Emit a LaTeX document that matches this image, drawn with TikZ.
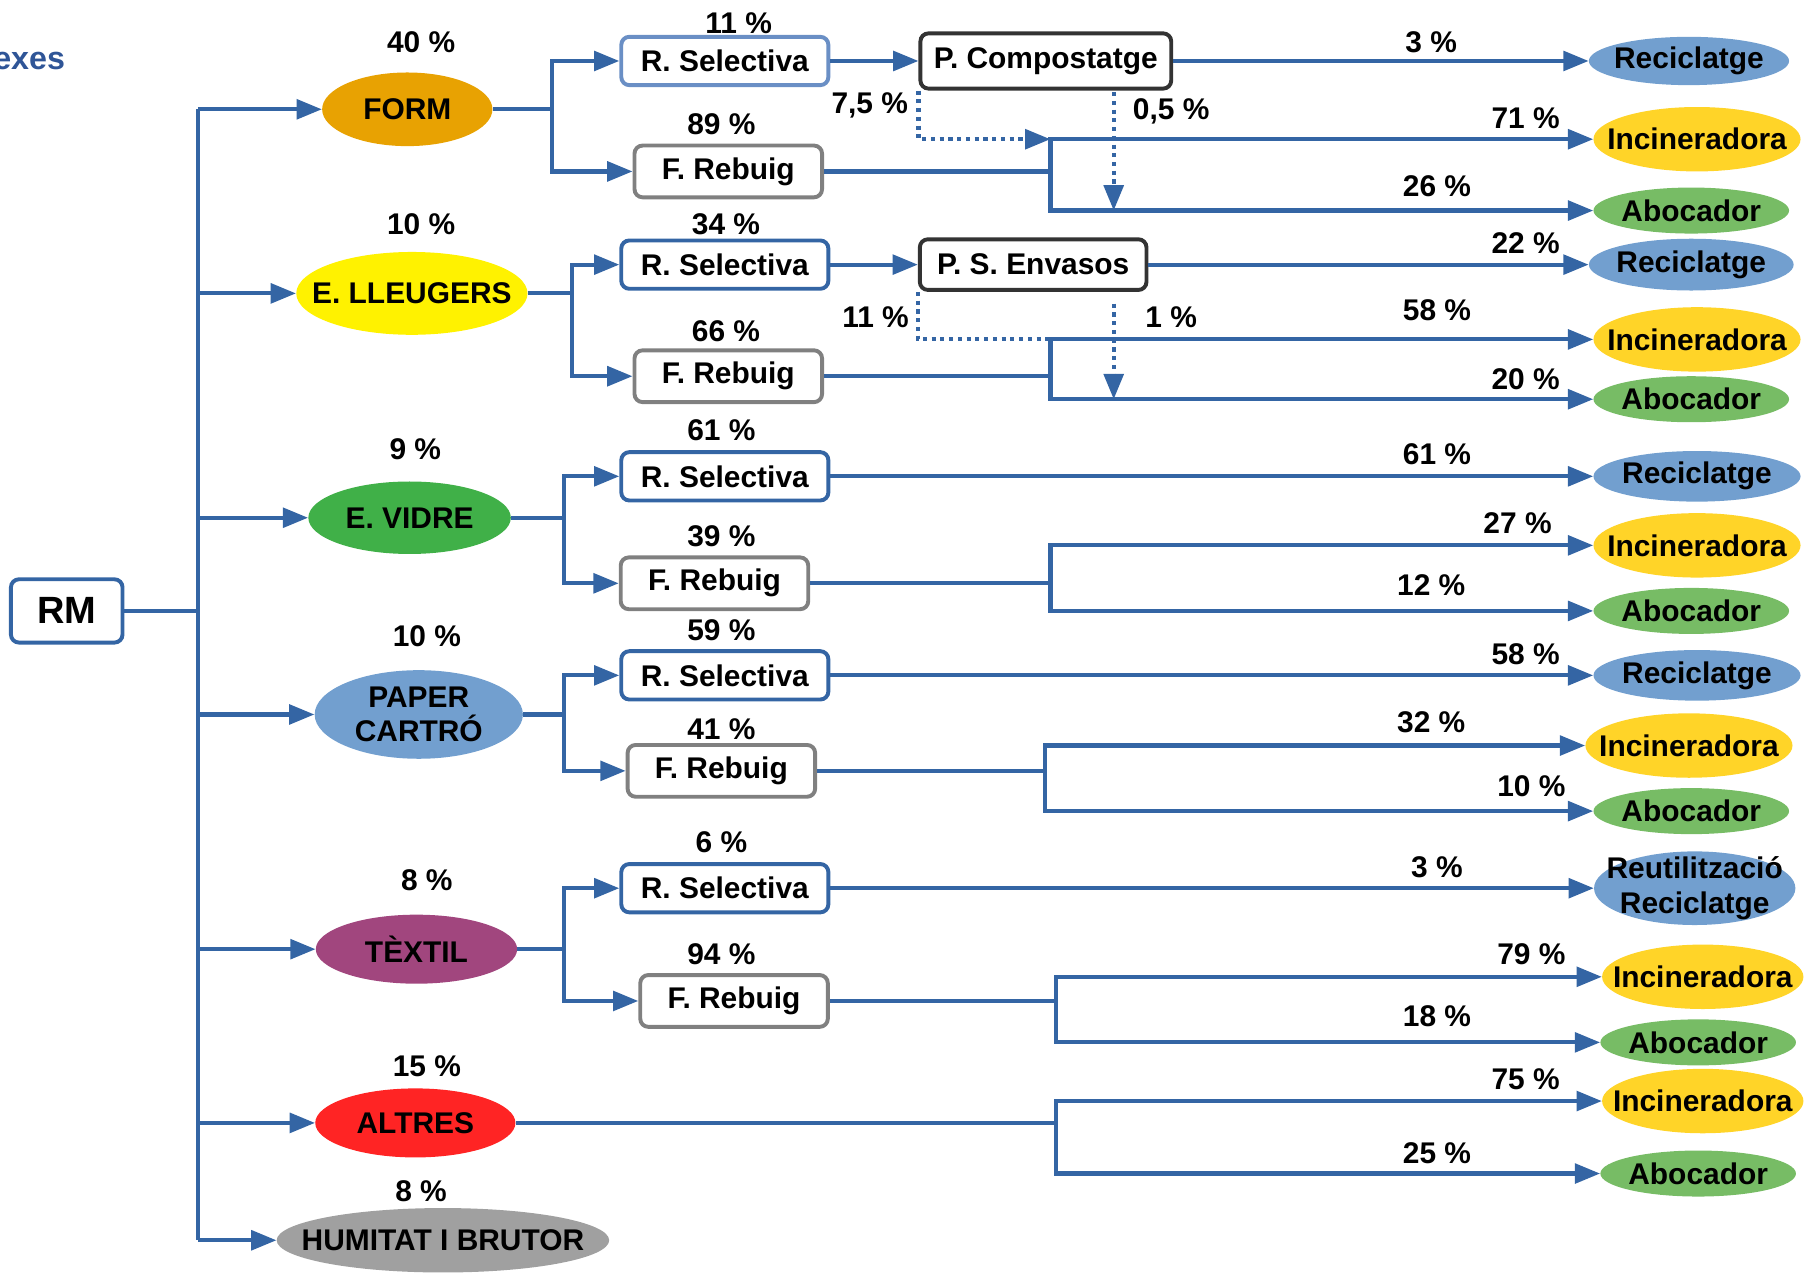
\documentclass[tikz,border=0pt]{standalone}
\usepackage{fontspec}
\setmainfont{Liberation Sans}
\usetikzlibrary{arrows.meta,shapes.geometric}
\definecolor{lnblue}{HTML}{3465A4}
\definecolor{lightblue}{HTML}{729FCF}
\definecolor{rsfirst}{HTML}{6A8FC5}
\definecolor{incyel}{HTML}{FFD428}
\definecolor{abgreen}{HTML}{77BC65}
\definecolor{formor}{HTML}{E8A202}
\definecolor{vidreg}{HTML}{40B048}
\definecolor{textilp}{HTML}{A1467E}
\definecolor{altresr}{HTML}{FF2424}
\definecolor{humgray}{HTML}{A0A0A0}
\definecolor{titleblue}{HTML}{2F5597}
\definecolor{pboxgray}{HTML}{333333}
\definecolor{frgray}{HTML}{808080}
\begin{document}
\begin{tikzpicture}[x=1pt,y=-1pt,
  every node/.style={font=\fontsize{26}{30}\selectfont\bfseries},
  conn/.style={draw=lnblue,line width=3.6pt},
  arr/.style={conn,-{Triangle[length=22pt,width=17pt]}},
  dotl/.style={draw=lnblue,line width=3.6pt,dash pattern=on 3.6pt off 4pt},
  dotarr/.style={dotl,-{Triangle[length=22pt,width=17pt]}},
  ell/.style={ellipse,inner sep=0pt,draw=none},
  bx/.style={rectangle,rounded corners=7pt,line width=3.4pt,fill=white,inner sep=0pt},
  rsel/.style={bx,draw=lnblue,minimum width=180pt,minimum height=42pt},
  frb/.style={bx,draw=frgray,minimum width=163pt,minimum height=45pt},
  pbx/.style={bx,draw=pboxgray},
  rec/.style={ell,fill=lightblue,minimum width=176pt,minimum height=44pt,label={center:Reciclatge}},
  inc/.style={ell,fill=incyel,minimum width=180pt,minimum height=56pt,label={center:Incineradora}},
  abo/.style={ell,fill=abgreen,minimum width=170pt,minimum height=40pt,label={center:Abocador}},
]
\useasboundingbox (0,0) rectangle (1568,1106);

% title fragment
\node[anchor=east,text=titleblue,font=\fontsize{28}{32}\selectfont\bfseries] (title) at (60,53) {exes};

% root
\node[bx,draw=lnblue,minimum width=97pt,minimum height=55pt,font=\fontsize{33}{36}\selectfont\bfseries] (rm) at (58,531) {RM};
\coordinate (trk) at (172,531);

% level 1 ellipses
\node[ell,fill=formor,minimum width=148pt,minimum height=64pt,label={center:FORM}] (form) at (354,95) {};
\node[ell,fill=yellow,minimum width=201pt,minimum height=72pt,label={center:E. LLEUGERS}] (lleu) at (358,255) {};
\node[ell,fill=vidreg,minimum width=176pt,minimum height=63pt,label={center:E. VIDRE}] (vidre) at (356,450) {};
\node[ell,fill=lightblue,minimum width=181pt,minimum height=77pt,label={[align=center]center:PAPER\\CARTRÓ}] (paper) at (364,621) {};
\node[ell,fill=textilp,minimum width=175pt,minimum height=60pt,label={center:TÈXTIL}] (textil) at (362,825) {};
\node[ell,fill=altresr,minimum width=174pt,minimum height=60pt,label={center:ALTRES}] (altres) at (361,976) {};
\node[ell,fill=humgray,minimum width=289pt,minimum height=56pt,label={center:HUMITAT I BRUTOR}] (hum) at (385,1078) {};

\node (p1) at (366,37) {40 \%};
\node (p2) at (366,195) {10 \%};
\node (p3) at (361,390) {9 \%};
\node (p4) at (371,553) {10 \%};
\node (p5) at (371,765) {8 \%};
\node (p6) at (371,927) {15 \%};
\node (p7) at (366,1035) {8 \%};

% trunk
\draw[conn] (rm.east) -- (trk);
\draw[conn] (trk |- form.west) -- (trk |- hum.west);
\foreach \n in {form,lleu,vidre,paper,textil,altres,hum}
  \draw[arr] (trk |- \n.west) -- (\n.west);

% level 2 boxes
\node[rsel,draw=rsfirst] (rs1) at (630,53) {R. Selectiva};
\node[frb] (fr1) at (633,149) {F. Rebuig};
\node[rsel] (rs2) at (630,230) {R. Selectiva};
\node[frb] (fr2) at (633,327) {F. Rebuig};
\node[rsel] (rs3) at (630,414) {R. Selectiva};
\node[frb] (fr3) at (621,507) {F. Rebuig};
\node[rsel] (rs4) at (630,587) {R. Selectiva};
\node[frb] (fr4) at (627,670) {F. Rebuig};
\node[rsel] (rs5) at (630,772) {R. Selectiva};
\node[frb] (fr5) at (638,870) {F. Rebuig};

\node (q1a) at (642,20) {11 \%};
\node (q1b) at (627,108) {89 \%};
\node (q2a) at (631,195) {34 \%};
\node (q2b) at (631,288) {66 \%};
\node (q3a) at (627,374) {61 \%};
\node (q3b) at (627,466) {39 \%};
\node (q4a) at (627,548) {59 \%};
\node (q4b) at (627,634) {41 \%};
\node (q5a) at (627,732) {6 \%};
\node (q5b) at (627,829) {94 \%};

\coordinate (j1) at (480,95);
\coordinate (j2) at (497,255);
\coordinate (j3) at (490,450);
\coordinate (j4) at (490,621);
\coordinate (j5) at (490,825);
\draw[conn] (form.east) -- (j1);
\draw[conn] (lleu.east) -- (j2);
\draw[conn] (vidre.east) -- (j3);
\draw[conn] (paper.east) -- (j4);
\draw[conn] (textil.east) -- (j5);
\draw[arr] (j1) |- (rs1.west); \draw[arr] (j1) |- (fr1.west);
\draw[arr] (j2) |- (rs2.west); \draw[arr] (j2) |- (fr2.west);
\draw[arr] (j3) |- (rs3.west); \draw[arr] (j3) |- (fr3.west);
\draw[arr] (j4) |- (rs4.west); \draw[arr] (j4) |- (fr4.west);
\draw[arr] (j5) |- (rs5.west); \draw[arr] (j5) |- (fr5.west);

% process boxes
\node[pbx,minimum width=218pt,minimum height=48pt] (pc) at (909,53) {P. Compostatge};
\node[pbx,minimum width=197pt,minimum height=44pt] (pse) at (898,230) {P. S. Envasos};
\draw[arr] (rs1.east) -- (pc.west);
\draw[arr] (rs2.east) -- (pse.west);

% terminal ellipses
\node[rec,minimum width=174pt,minimum height=42pt] (rec1) at (1468,53) {};
\node[inc] (inc1) at (1475,121) {};
\node[abo] (abo1) at (1470,183) {};
\node[rec,minimum width=178pt,minimum height=45pt] (rec2) at (1470,230) {};
\node[inc] (inc2) at (1475,295) {};
\node[abo] (abo2) at (1470,347) {};
\node[rec,minimum width=180pt] (rec3) at (1475,414) {};
\node[inc] (inc3) at (1475,474) {};
\node[abo] (abo3) at (1470,531) {};
\node[rec,minimum width=180pt] (rec4) at (1475,587) {};
\node[inc] (inc4) at (1468,648) {};
\node[abo] (abo4) at (1470,705) {};
\node[ell,fill=lightblue,minimum width=175pt,minimum height=64pt,label={[align=center]center:Reutilització\\Reciclatge}] (rec5) at (1473,772) {};
\node[inc,minimum width=175pt] (inc5) at (1480,849) {};
\node[abo] (abo5) at (1476,906) {};
\node[inc,minimum width=175pt] (inc6) at (1480,957) {};
\node[abo] (abo6) at (1476,1020) {};

% level 3 connectors
\coordinate (k1) at (913,149);
\coordinate (k2) at (913,327);
\coordinate (k3) at (913,507);
\coordinate (k4) at (908,670);
\coordinate (k5) at (918,870);
\coordinate (k6) at (918,976);
\draw[arr] (pc.east) -- (rec1.west);
\draw[arr] (pse.east) -- (rec2.west);
\draw[arr] (rs3.east) -- (rec3.west);
\draw[arr] (rs4.east) -- (rec4.west);
\draw[arr] (rs5.east) -- (rec5.west);
\draw[conn] (fr1.east) -- (k1);
\draw[conn] (fr2.east) -- (k2);
\draw[conn] (fr3.east) -- (k3);
\draw[conn] (fr4.east) -- (k4);
\draw[conn] (fr5.east) -- (k5);
\draw[conn] (altres.east) -- (k6);
\draw[arr] (k1) |- (inc1.west); \draw[arr] (k1) |- (abo1.west);
\draw[arr] (k2) |- (inc2.west); \draw[arr] (k2) |- (abo2.west);
\draw[arr] (k3) |- (inc3.west); \draw[arr] (k3) |- (abo3.west);
\draw[arr] (k4) |- (inc4.west); \draw[arr] (k4) |- (abo4.west);
\draw[arr] (k5) |- (inc5.west); \draw[arr] (k5) |- (abo5.west);
\draw[arr] (k6) |- (inc6.west); \draw[arr] (k6) |- (abo6.west);

% dotted flows
\coordinate (d1) at (968,80);
\coordinate (d2) at (968,264);
\draw[dotarr] (pc.south west) |- (k1 |- inc1.west);
\draw[dotarr] (d1) -- (d1 |- abo1.west);
\draw[dotl] (pse.south west) |- (k2 |- inc2.west);
\draw[dotarr] (d2) -- (d2 |- abo2.west);

% terminal percentages
\node (r1) at (1244,37) {3 \%};
\node (r2) at (1326,103) {71 \%};
\node (r3) at (1249,162) {26 \%};
\node (r4) at (1326,211) {22 \%};
\node (r5) at (1249,270) {58 \%};
\node (r6) at (1326,330) {20 \%};
\node (r7) at (1249,395) {61 \%};
\node (r8) at (1319,455) {27 \%};
\node (r9) at (1244,509) {12 \%};
\node (r10) at (1326,569) {58 \%};
\node (r11) at (1244,628) {32 \%};
\node (r12) at (1331,683) {10 \%};
\node (r13) at (1249,754) {3 \%};
\node (r14) at (1331,829) {79 \%};
\node (r15) at (1249,883) {18 \%};
\node (r16) at (1326,938) {75 \%};
\node (r17) at (1249,1002) {25 \%};

\node (s1) at (756,92) {7,5 \%};
\node (s2) at (1018,97) {0,5 \%};
\node (s3) at (761,276) {11 \%};
\node (s4) at (1018,276) {1 \%};
\end{tikzpicture}
\end{document}
